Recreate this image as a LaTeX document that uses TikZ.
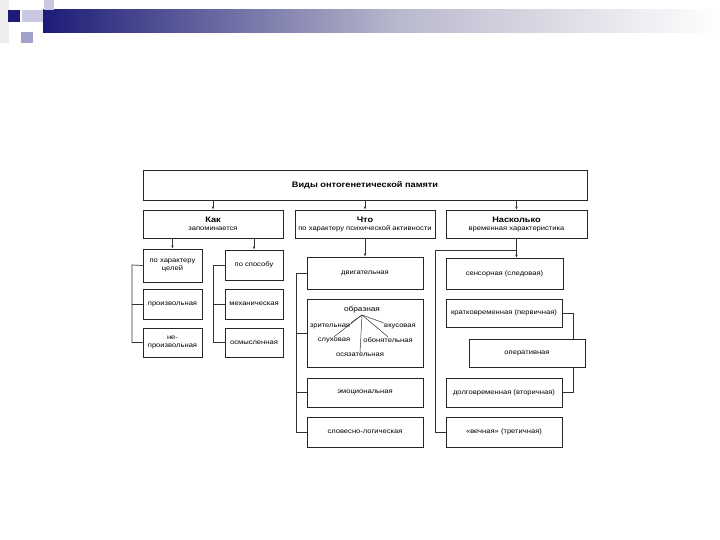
\documentclass[tikz,border=0pt]{standalone}
\usepackage{fontspec}
\setmainfont{Liberation Sans}[FakeStretch=1.15]
\usetikzlibrary{arrows.meta,shadows}
\newcommand\fsm{\fontsize{6.6}{8}\selectfont}
\newcommand\fhd{\fontsize{8}{9.5}\selectfont\bfseries}
\definecolor{navy}{RGB}{28,28,120}
\definecolor{midgr}{RGB}{185,185,205}
\definecolor{lavl}{RGB}{200,200,225}
\definecolor{lavm}{RGB}{160,160,205}
\begin{document}
\begin{tikzpicture}[x=1pt,y=-1pt,
  box/.style={draw=black!85, line width=0.7pt, fill=white, inner sep=1pt, align=center, font=\fsm,
    drop shadow={shadow xshift=1.3pt, shadow yshift=-1.3pt, fill=black!70, opacity=1}},
  conn/.style={draw=black!80, line width=0.7pt},
  arr/.style={conn, -{Latex[length=3pt,width=2.6pt]}},
  lbl/.style={font=\fsm, inner sep=0.5pt}]
\useasboundingbox (0,0) rectangle (720,540);
% slide header
\fill[black!7] (0,0) rectangle (9,43);
\shade[left color=navy, right color=midgr] (43,10) rectangle (400,33);
\shade[left color=midgr, right color=white] (400,10) rectangle (720,33);
\fill[lavl] (22,10) rectangle (43,22);
\fill[navy] (8,10) rectangle (20,22);
\fill[lavl] (44,0) rectangle (54,10);
\fill[lavm] (21,32) rectangle (33,43);

% title and heads
\node[box, font=\fhd, minimum width=444pt, minimum height=30pt] (title) at (365,185) {Виды онтогенетической памяти};
\node[box, minimum width=140pt, minimum height=28pt] (kak) at (213,224) {{\fhd Как}\\запоминается};
\node[box, minimum width=140pt, minimum height=28pt] (chto) at (365,224) {{\fhd Что}\\по характеру психической активности};
\node[box, minimum width=141pt, minimum height=28pt] (nask) at (516.5,224) {{\fhd Насколько}\\временная характеристика};
\foreach \n in {kak,chto,nask} \draw[arr] (\n.north |- title.south) -- (\n.north);

% column 1
\node[box, minimum width=59pt, minimum height=33pt] (celi) at (172.5,265.5) {по характеру\\целей};
\node[box, minimum width=58pt, minimum height=30pt] (sposob) at (254,265) {по способу};
\node[box, minimum width=59pt, minimum height=30pt] (proizv) at (172.5,304) {произвольная};
\node[box, minimum width=58pt, minimum height=30pt] (mech) at (254,304) {механическая};
\node[box, minimum width=59pt, minimum height=29pt] (neproizv) at (172.5,342.5) {не-\\произвольная};
\node[box, minimum width=58pt, minimum height=29pt] (osm) at (254,342.5) {осмысленная};
\draw[arr] (celi.north |- kak.south) -- (celi.north);
\draw[arr] (sposob.north |- kak.south) -- (sposob.north);
\coordinate (b1) at (132,265);
\coordinate (b2) at (213,265);
\draw[conn] (celi.west) -- (b1) |- (neproizv.west);
\draw[conn] (proizv.west) -- (b1 |- proizv.west);
\draw[conn] (sposob.west) -- (b2) |- (osm.west);
\draw[conn] (mech.west) -- (b2 |- mech.west);

% column 2
\node[box, minimum width=116pt, minimum height=32pt] (dvig) at (365,273) {двигательная};
\node[box, minimum width=116pt, minimum height=68pt] (obraz) at (365,333) {};
\node[box, minimum width=116pt, minimum height=29pt] (emoc) at (365,392.5) {эмоциональная};
\node[box, minimum width=116pt, minimum height=30pt] (slov) at (365,432) {словесно-логическая};
\draw[arr] (chto.south) -- (dvig.north);
\coordinate (b3) at (296,273);
\draw[conn] (dvig.west) -- (b3) |- (slov.west);
\draw[conn] (obraz.west) -- (b3 |- obraz.west);
\draw[conn] (emoc.west) -- (b3 |- emoc.west);
% inside "образная"
\node[lbl, font=\fontsize{7.2}{8}\selectfont] (o0) at (362,310) {образная};
\node[lbl] (o1) at (330,326) {зрительная};
\node[lbl] (o2) at (400,326) {вкусовая};
\node[lbl] (o3) at (334,340) {слуховая};
\node[lbl] (o4) at (388,340) {обонятельная};
\node[lbl] (o5) at (360,355) {осязательная};
\coordinate (hub) at (362,315);
\draw[conn, line width=0.5pt] (hub) -- (o1.north east);
\draw[conn, line width=0.5pt] (hub) -- (o2.north west);
\draw[conn, line width=0.5pt] (hub) -- (o3.north);
\draw[conn, line width=0.5pt] (hub) -- (o4.north);
\draw[conn, line width=0.5pt] (hub) -- (o5.north);

% column 3
\node[box, minimum width=117pt, minimum height=31pt] (sens) at (504.5,273.5) {сенсорная (следовая)};
\node[box, minimum width=116pt, minimum height=28pt] (kratk) at (504,313) {кратковременная (первичная)};
\node[box, minimum width=116pt, minimum height=28pt] (oper) at (527,353) {оперативная};
\node[box, minimum width=116pt, minimum height=29pt] (dolg) at (504,392.5) {долговременная (вторичная)};
\node[box, minimum width=116pt, minimum height=30pt] (vech) at (504,432) {«вечная» (третичная)};
\coordinate (b4) at (435,250);
\draw[arr] (nask.south) -- (nask.south |- sens.north);
\draw[conn] (nask.south |- b4) -- (b4) |- (vech.west);
\coordinate (kx) at (573,0);
\draw[conn] (kratk.east) -| (kx |- oper.north);
\draw[conn] (kx |- oper.south) |- (dolg.east);
\end{tikzpicture}
\end{document}
